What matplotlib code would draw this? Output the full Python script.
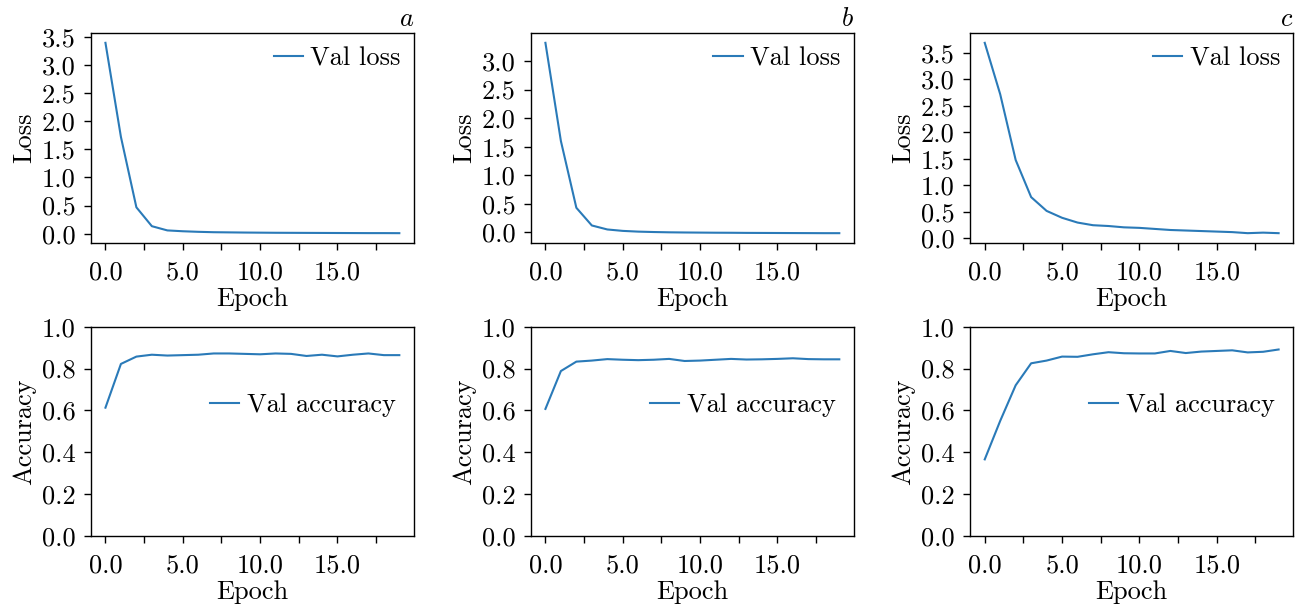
import numpy as np
import matplotlib
matplotlib.use("Agg")
import matplotlib.pyplot as plt
from matplotlib.ticker import MultipleLocator, FuncFormatter

# valeurs (20 epochs)
epochs = np.arange(20)

loss_a = [3.39, 1.72, 0.47, 0.135, 0.06, 0.045, 0.035, 0.028, 0.025, 0.022,
          0.02, 0.018, 0.017, 0.016, 0.015, 0.014, 0.013, 0.012, 0.012, 0.011]
loss_b = [3.32, 1.60, 0.43, 0.12, 0.05, 0.025, 0.012, 0.005, 0.0, -0.003,
          -0.005, -0.007, -0.008, -0.01, -0.011, -0.012, -0.013, -0.014, -0.015, -0.015]
loss_c = [3.69, 2.72, 1.48, 0.78, 0.52, 0.39, 0.30, 0.25, 0.235, 0.21,
          0.20, 0.18, 0.16, 0.15, 0.14, 0.13, 0.12, 0.10, 0.11, 0.10]

acc_a = [0.613, 0.822, 0.857, 0.866, 0.862, 0.864, 0.866, 0.872, 0.872, 0.870,
         0.868, 0.872, 0.870, 0.860, 0.866, 0.858, 0.866, 0.872, 0.864, 0.864]
acc_b = [0.607, 0.788, 0.833, 0.838, 0.845, 0.842, 0.840, 0.842, 0.846, 0.836,
         0.838, 0.842, 0.846, 0.843, 0.844, 0.846, 0.849, 0.845, 0.844, 0.844]
acc_c = [0.366, 0.55, 0.72, 0.825, 0.838, 0.857, 0.856, 0.868, 0.878, 0.873,
         0.872, 0.872, 0.884, 0.874, 0.881, 0.884, 0.887, 0.877, 0.880, 0.891]

panel_labels = ["a", "b", "c"]
losses = [loss_a, loss_b, loss_c]
accs = [acc_a, acc_b, acc_c]

FS = 19
plt.rcParams["font.family"] = "serif"
plt.rcParams["font.serif"] = ["cmr10"]
plt.rcParams["mathtext.fontset"] = "cm"
plt.rcParams["axes.formatter.use_mathtext"] = True
plt.rcParams["font.size"] = FS

color = "#2a7ab8"

fig = plt.figure(figsize=(13.04, 6.09), dpi=100)

lefts = [0.0696, 0.4070, 0.7439]
width = 0.2479
top_row = (0.6015, 0.3438)
bot_row = (0.1199, 0.3437)


def xfmt(v, pos):
    if abs(v % 5) < 1e-6:
        return "%.1f" % v
    return ""


def style(ax, ystep):
    ax.xaxis.set_major_locator(MultipleLocator(2.5))
    ax.xaxis.set_major_formatter(FuncFormatter(xfmt))
    ax.yaxis.set_major_locator(MultipleLocator(ystep))
    ax.yaxis.set_major_formatter(FuncFormatter(lambda v, p: "%.1f" % v))
    ax.tick_params(direction="out", length=5, width=1, labelsize=FS)
    ax.tick_params(axis="x", pad=8)
    ax.tick_params(axis="y", pad=6)
    ax.set_xlabel("Epoch", labelpad=2)
    for s in ax.spines.values():
        s.set_linewidth(1)


for i in range(3):
    ax1 = fig.add_axes([lefts[i], top_row[0], width, top_row[1]])
    ax1.plot(epochs, losses[i], color=color, lw=1.5, label="Val loss")
    style(ax1, 0.5)
    ax1.set_ylabel("Loss", labelpad=4)
    ax1.legend(loc="upper right", frameon=False, handlelength=1.1,
               handletextpad=0.3, fontsize=FS, borderaxespad=0.1)
    ax1.set_title("$" + panel_labels[i] + "$", loc="right", pad=5, fontsize=FS)

    ax2 = fig.add_axes([lefts[i], bot_row[0], width, bot_row[1]])
    ax2.plot(epochs, accs[i], color=color, lw=1.5, label="Val accuracy")
    style(ax2, 0.2)
    ax2.set_ylim(0, 1.0)
    ax2.set_ylabel("Accuracy", labelpad=4)
    ax2.legend(loc="center right", bbox_to_anchor=(1.0, 0.626), frameon=False,
               handlelength=1.1, handletextpad=0.3, fontsize=FS, borderaxespad=0.3)

fig.savefig("out.png", dpi=100)
